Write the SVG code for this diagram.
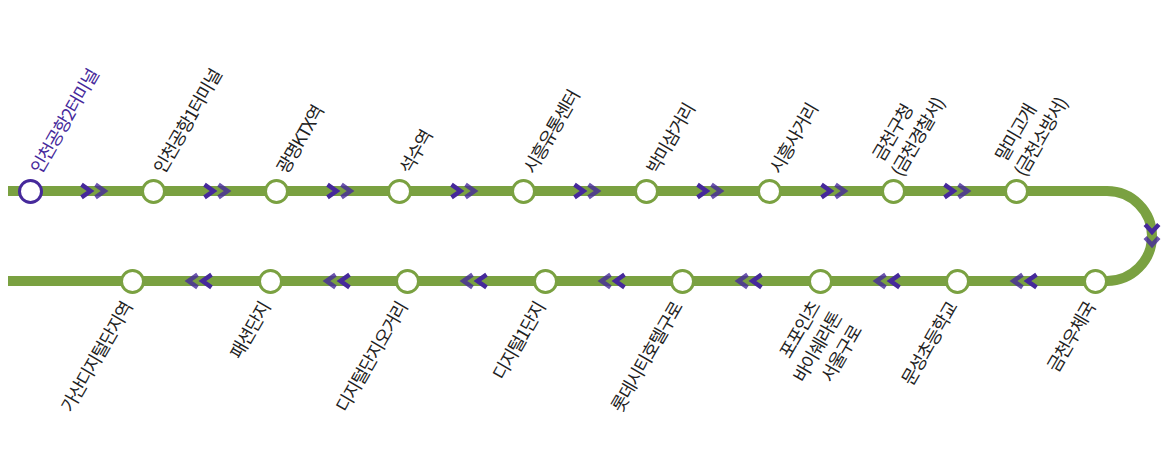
<svg xmlns="http://www.w3.org/2000/svg" width="1170" height="476" viewBox="0 0 1170 476">
<style>
.line{fill:none;stroke:#7aa141;stroke-width:10}
.st{fill:#fff;stroke:#7aa141;stroke-width:3}
.first{fill:#fff;stroke:#46299b;stroke-width:3}
.chev{fill:none;stroke:#46299b;stroke-width:4.5}
.l{font-family:"Noto Sans CJK KR","Noto Sans",sans-serif;font-size:18px;letter-spacing:-1.2px;fill:#222}
.e{text-anchor:end}
.m{text-anchor:middle}
</style>
<defs>
<g id="fw"><polyline class="chev" points="0.5,-6.3 9.5,0 0.5,6.3"/><polyline class="chev" opacity="0.8" points="14.5,-6.3 23.5,0 14.5,6.3"/></g>
<g id="bk"><polyline class="chev" points="-0.5,-6.3 -9.5,0 -0.5,6.3"/><polyline class="chev" opacity="0.8" points="-14.5,-6.3 -23.5,0 -14.5,6.3"/></g>
<g id="dn"><polyline class="chev" points="-6.8,0.5 0,8 6.8,0.5"/><polyline class="chev" opacity="0.8" points="-6.8,13.5 0,21 6.8,13.5"/></g>
</defs>
<g id="connectors">
<path class="line" d="M8 191H1107A45 45 0 0 1 1107 281H8"/>
<use href="#fw" x="81" y="191"/><use href="#fw" x="204" y="191"/><use href="#fw" x="327" y="191"/><use href="#fw" x="451" y="191"/><use href="#fw" x="574" y="191"/><use href="#fw" x="697" y="191"/><use href="#fw" x="821" y="191"/><use href="#fw" x="944" y="191"/>
<use href="#dn" x="1152" y="224"/>
<use href="#bk" x="1037" y="281"/><use href="#bk" x="900" y="281"/><use href="#bk" x="762" y="281"/><use href="#bk" x="625" y="281"/><use href="#bk" x="487" y="281"/><use href="#bk" x="350" y="281"/><use href="#bk" x="212" y="281"/>
</g>
<g id="s1"><circle class="first" cx="30.5" cy="191.5" r="11"/><text class="l" style="fill:#46299b" transform="translate(41 175) rotate(-60)">인천공항2터미널</text></g>
<g id="s2"><circle class="st" cx="153.5" cy="191.5" r="11"/><text class="l" transform="translate(164 175) rotate(-60)">인천공항1터미널</text></g>
<g id="s3"><circle class="st" cx="276.5" cy="191.5" r="11"/><text class="l" transform="translate(287 175) rotate(-60)">광명KTX역</text></g>
<g id="s4"><circle class="st" cx="399.5" cy="191.5" r="11"/><text class="l" transform="translate(410 175) rotate(-60)">석수역</text></g>
<g id="s5"><circle class="st" cx="523.5" cy="191.5" r="11"/><text class="l" transform="translate(534 175) rotate(-60)">시흥유통센터</text></g>
<g id="s6"><circle class="st" cx="646.5" cy="191.5" r="11"/><text class="l" transform="translate(657 175) rotate(-60)">박미삼거리</text></g>
<g id="s7"><circle class="st" cx="769.5" cy="191.5" r="11"/><text class="l" transform="translate(780 175) rotate(-60)">시흥사거리</text></g>
<g id="s8"><circle class="st" cx="893.5" cy="191.5" r="11"/><text class="l m" transform="translate(898 136) rotate(-60)"><tspan x="0" y="0">금천구청</tspan><tspan x="9" y="24">(금천경찰서)</tspan></text></g>
<g id="s9"><circle class="st" cx="1016.5" cy="191.5" r="11"/><text class="l m" transform="translate(1021 136) rotate(-60)"><tspan x="0" y="0">말미고개</tspan><tspan x="9" y="24">(금천소방서)</tspan></text></g>
<g id="s10"><circle class="st" cx="1095.5" cy="281.5" r="11"/><text class="l e" transform="translate(1096 307) rotate(-60)">금천우체국</text></g>
<g id="s11"><circle class="st" cx="957.5" cy="281.5" r="11"/><text class="l e" transform="translate(958 307) rotate(-60)">문성초등학교</text></g>
<g id="s12"><circle class="st" cx="820.5" cy="281.5" r="11"/><text class="l m" transform="translate(826 345) rotate(-60)"><tspan x="0" y="-24">포포인츠</tspan><tspan x="-6" y="0">바이쉐라톤</tspan><tspan x="0" y="24">서울구로</tspan></text></g>
<g id="s13"><circle class="st" cx="682.5" cy="281.5" r="11"/><text class="l e" transform="translate(683 307) rotate(-60)">롯데시티호텔구로</text></g>
<g id="s14"><circle class="st" cx="545.5" cy="281.5" r="11"/><text class="l e" transform="translate(546 307) rotate(-60)">디지털1단지</text></g>
<g id="s15"><circle class="st" cx="407.5" cy="281.5" r="11"/><text class="l e" transform="translate(408 307) rotate(-60)">디지털단지오거리</text></g>
<g id="s16"><circle class="st" cx="270.5" cy="281.5" r="11"/><text class="l e" transform="translate(271 307) rotate(-60)">패션단지</text></g>
<g id="s17"><circle class="st" cx="132.5" cy="281.5" r="11"/><text class="l e" transform="translate(133 307) rotate(-60)">가산디지털단지역</text></g>
</svg>
